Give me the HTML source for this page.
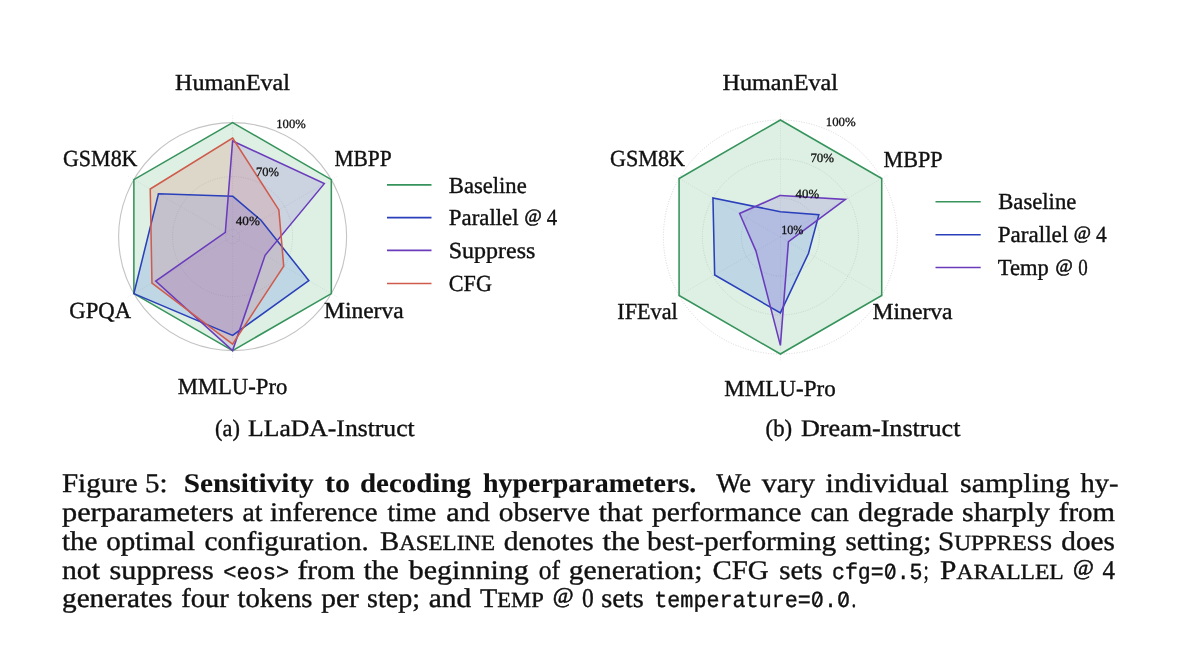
<!DOCTYPE html>
<html><head><meta charset="utf-8"><title>Figure 5</title>
<style>
html,body{margin:0;padding:0;background:#fff;}
body{width:1200px;height:655px;position:relative;overflow:hidden;font-family:"Liberation Serif",serif;}
</style></head><body>
<svg width="1200" height="655" viewBox="0 0 1200 655" style="position:absolute;left:0;top:0;will-change:transform;text-rendering:geometricPrecision">
<rect width="1200" height="655" fill="#ffffff"/>
<line x1="232.60" y1="236.60" x2="232.60" y2="115.60" stroke="#b0b0b0" stroke-width="0.8" stroke-dasharray="1 1.4" opacity="0.32"/>
<line x1="232.60" y1="236.60" x2="337.39" y2="176.10" stroke="#b0b0b0" stroke-width="0.8" stroke-dasharray="1 1.4" opacity="0.32"/>
<line x1="232.60" y1="236.60" x2="337.39" y2="297.10" stroke="#b0b0b0" stroke-width="0.8" stroke-dasharray="1 1.4" opacity="0.32"/>
<line x1="232.60" y1="236.60" x2="232.60" y2="357.60" stroke="#b0b0b0" stroke-width="0.8" stroke-dasharray="1 1.4" opacity="0.32"/>
<line x1="232.60" y1="236.60" x2="127.81" y2="297.10" stroke="#b0b0b0" stroke-width="0.8" stroke-dasharray="1 1.4" opacity="0.32"/>
<line x1="232.60" y1="236.60" x2="127.81" y2="176.10" stroke="#b0b0b0" stroke-width="0.8" stroke-dasharray="1 1.4" opacity="0.32"/>
<circle cx="232.60" cy="236.60" r="7.00" fill="none" stroke="#b0b0b0" stroke-width="0.9" stroke-dasharray="1 1.4" opacity="0.42"/>
<circle cx="232.60" cy="236.60" r="60.00" fill="none" stroke="#b0b0b0" stroke-width="0.9" stroke-dasharray="1 1.4" opacity="0.42"/>
<circle cx="232.60" cy="236.60" r="114.00" fill="none" stroke="#c4c4c4" stroke-width="1.10"/>
<polygon points="232.60,122.60 331.33,179.60 331.33,293.60 232.60,350.60 133.87,293.60 133.87,179.60" fill="#2ea050" fill-opacity="0.16" stroke="none"/>
<polygon points="232.60,196.20 261.01,220.20 308.81,280.60 232.60,335.40 133.87,293.60 158.47,193.80" fill="#2850f0" fill-opacity="0.16" stroke="none"/>
<polygon points="232.60,141.00 324.31,183.65 265.08,255.35 232.60,350.60 155.70,281.00 225.33,232.40" fill="#783cd2" fill-opacity="0.16" stroke="none"/>
<polygon points="232.60,138.00 278.85,209.90 283.70,266.10 232.60,344.10 151.97,283.15 150.24,189.05" fill="#dd554c" fill-opacity="0.16" stroke="none"/>
<polygon points="232.60,122.60 331.33,179.60 331.33,293.60 232.60,350.60 133.87,293.60 133.87,179.60" fill="none" stroke="#36935c" stroke-width="1.55" stroke-linejoin="miter"/>
<polygon points="232.60,196.20 261.01,220.20 308.81,280.60 232.60,335.40 133.87,293.60 158.47,193.80" fill="none" stroke="#2a3fba" stroke-width="1.55" stroke-linejoin="miter"/>
<polygon points="232.60,141.00 324.31,183.65 265.08,255.35 232.60,350.60 155.70,281.00 225.33,232.40" fill="none" stroke="#6a3cbc" stroke-width="1.55" stroke-linejoin="miter"/>
<polygon points="232.60,138.00 278.85,209.90 283.70,266.10 232.60,344.10 151.97,283.15 150.24,189.05" fill="none" stroke="#cf5b4c" stroke-width="1.55" stroke-linejoin="miter"/>
<line x1="780.40" y1="237.00" x2="780.40" y2="113.00" stroke="#b0b0b0" stroke-width="0.8" stroke-dasharray="1 1.4" opacity="0.32"/>
<line x1="780.40" y1="237.00" x2="887.79" y2="175.00" stroke="#b0b0b0" stroke-width="0.8" stroke-dasharray="1 1.4" opacity="0.32"/>
<line x1="780.40" y1="237.00" x2="887.79" y2="299.00" stroke="#b0b0b0" stroke-width="0.8" stroke-dasharray="1 1.4" opacity="0.32"/>
<line x1="780.40" y1="237.00" x2="780.40" y2="361.00" stroke="#b0b0b0" stroke-width="0.8" stroke-dasharray="1 1.4" opacity="0.32"/>
<line x1="780.40" y1="237.00" x2="673.01" y2="299.00" stroke="#b0b0b0" stroke-width="0.8" stroke-dasharray="1 1.4" opacity="0.32"/>
<line x1="780.40" y1="237.00" x2="673.01" y2="175.00" stroke="#b0b0b0" stroke-width="0.8" stroke-dasharray="1 1.4" opacity="0.32"/>
<circle cx="780.40" cy="237.00" r="39.00" fill="none" stroke="#b0b0b0" stroke-width="0.9" stroke-dasharray="1 1.4" opacity="0.42"/>
<circle cx="780.40" cy="237.00" r="78.00" fill="none" stroke="#b0b0b0" stroke-width="0.9" stroke-dasharray="1 1.4" opacity="0.42"/>
<circle cx="780.40" cy="237.00" r="117.00" fill="none" stroke="#d0d0d8" stroke-width="0.90" stroke-dasharray="1 1.6"/>
<polygon points="780.40,120.00 881.72,178.50 881.72,295.50 780.40,354.00 679.08,295.50 679.08,178.50" fill="#2ea050" fill-opacity="0.16" stroke="none"/>
<polygon points="780.40,211.70 818.85,214.80 808.55,253.25 780.40,312.90 714.67,274.95 712.94,198.05" fill="#2850f0" fill-opacity="0.16" stroke="none"/>
<polygon points="780.40,195.40 845.44,199.45 788.45,241.65 780.40,345.40 755.98,251.10 739.61,213.45" fill="#783cd2" fill-opacity="0.16" stroke="none"/>
<polygon points="780.40,120.00 881.72,178.50 881.72,295.50 780.40,354.00 679.08,295.50 679.08,178.50" fill="none" stroke="#36935c" stroke-width="1.55" stroke-linejoin="miter"/>
<polygon points="780.40,211.70 818.85,214.80 808.55,253.25 780.40,312.90 714.67,274.95 712.94,198.05" fill="none" stroke="#2a3fba" stroke-width="1.55" stroke-linejoin="miter"/>
<polygon points="780.40,195.40 845.44,199.45 788.45,241.65 780.40,345.40 755.98,251.10 739.61,213.45" fill="none" stroke="#6a3cbc" stroke-width="1.55" stroke-linejoin="miter"/>
<text x="175.00" y="90.00" font-family="'Liberation Serif', serif" font-size="23.00px" font-weight="normal" fill="#111" textLength="115.00" lengthAdjust="spacingAndGlyphs" xml:space="preserve" stroke="#111" stroke-width="0.38" stroke-linejoin="round">HumanEval</text>
<text x="63.00" y="165.75" font-family="'Liberation Serif', serif" font-size="23.00px" font-weight="normal" fill="#111" textLength="74.50" lengthAdjust="spacingAndGlyphs" xml:space="preserve" stroke="#111" stroke-width="0.38" stroke-linejoin="round">GSM8K</text>
<text x="334.50" y="165.70" font-family="'Liberation Serif', serif" font-size="23.00px" font-weight="normal" fill="#111" textLength="57.20" lengthAdjust="spacingAndGlyphs" xml:space="preserve" stroke="#111" stroke-width="0.38" stroke-linejoin="round">MBPP</text>
<text x="69.30" y="318.30" font-family="'Liberation Serif', serif" font-size="23.00px" font-weight="normal" fill="#111" textLength="61.70" lengthAdjust="spacingAndGlyphs" xml:space="preserve" stroke="#111" stroke-width="0.38" stroke-linejoin="round">GPQA</text>
<text x="324.00" y="318.10" font-family="'Liberation Serif', serif" font-size="23.00px" font-weight="normal" fill="#111" textLength="79.60" lengthAdjust="spacingAndGlyphs" xml:space="preserve" stroke="#111" stroke-width="0.38" stroke-linejoin="round">Minerva</text>
<text x="177.70" y="394.30" font-family="'Liberation Serif', serif" font-size="23.00px" font-weight="normal" fill="#111" textLength="109.60" lengthAdjust="spacingAndGlyphs" xml:space="preserve" stroke="#111" stroke-width="0.38" stroke-linejoin="round">MMLU-Pro</text>
<text x="276.30" y="127.60" font-family="'Liberation Serif', serif" font-size="12.60px" font-weight="normal" fill="#111" textLength="29.40" lengthAdjust="spacingAndGlyphs" xml:space="preserve" stroke="#111" stroke-width="0.30" stroke-linejoin="round">100%</text>
<text x="256.00" y="176.20" font-family="'Liberation Serif', serif" font-size="12.60px" font-weight="normal" fill="#111" textLength="23.00" lengthAdjust="spacingAndGlyphs" xml:space="preserve" stroke="#111" stroke-width="0.30" stroke-linejoin="round">70%</text>
<text x="235.80" y="225.40" font-family="'Liberation Serif', serif" font-size="12.60px" font-weight="normal" fill="#111" textLength="24.10" lengthAdjust="spacingAndGlyphs" xml:space="preserve" stroke="#111" stroke-width="0.30" stroke-linejoin="round">40%</text>
<text x="722.50" y="90.00" font-family="'Liberation Serif', serif" font-size="23.00px" font-weight="normal" fill="#111" textLength="115.50" lengthAdjust="spacingAndGlyphs" xml:space="preserve" stroke="#111" stroke-width="0.38" stroke-linejoin="round">HumanEval</text>
<text x="610.00" y="166.25" font-family="'Liberation Serif', serif" font-size="23.00px" font-weight="normal" fill="#111" textLength="75.00" lengthAdjust="spacingAndGlyphs" xml:space="preserve" stroke="#111" stroke-width="0.38" stroke-linejoin="round">GSM8K</text>
<text x="883.50" y="166.70" font-family="'Liberation Serif', serif" font-size="23.00px" font-weight="normal" fill="#111" textLength="59.00" lengthAdjust="spacingAndGlyphs" xml:space="preserve" stroke="#111" stroke-width="0.38" stroke-linejoin="round">MBPP</text>
<text x="617.30" y="319.30" font-family="'Liberation Serif', serif" font-size="23.00px" font-weight="normal" fill="#111" textLength="60.40" lengthAdjust="spacingAndGlyphs" xml:space="preserve" stroke="#111" stroke-width="0.38" stroke-linejoin="round">IFEval</text>
<text x="872.50" y="319.30" font-family="'Liberation Serif', serif" font-size="23.00px" font-weight="normal" fill="#111" textLength="80.10" lengthAdjust="spacingAndGlyphs" xml:space="preserve" stroke="#111" stroke-width="0.38" stroke-linejoin="round">Minerva</text>
<text x="724.30" y="396.00" font-family="'Liberation Serif', serif" font-size="23.00px" font-weight="normal" fill="#111" textLength="111.40" lengthAdjust="spacingAndGlyphs" xml:space="preserve" stroke="#111" stroke-width="0.38" stroke-linejoin="round">MMLU-Pro</text>
<text x="825.80" y="125.60" font-family="'Liberation Serif', serif" font-size="12.60px" font-weight="normal" fill="#111" textLength="29.90" lengthAdjust="spacingAndGlyphs" xml:space="preserve" stroke="#111" stroke-width="0.30" stroke-linejoin="round">100%</text>
<text x="810.40" y="161.80" font-family="'Liberation Serif', serif" font-size="12.60px" font-weight="normal" fill="#111" textLength="23.70" lengthAdjust="spacingAndGlyphs" xml:space="preserve" stroke="#111" stroke-width="0.30" stroke-linejoin="round">70%</text>
<text x="795.60" y="198.00" font-family="'Liberation Serif', serif" font-size="12.60px" font-weight="normal" fill="#111" textLength="23.50" lengthAdjust="spacingAndGlyphs" xml:space="preserve" stroke="#111" stroke-width="0.30" stroke-linejoin="round">40%</text>
<text x="781.20" y="234.10" font-family="'Liberation Serif', serif" font-size="12.60px" font-weight="normal" fill="#111" textLength="22.20" lengthAdjust="spacingAndGlyphs" xml:space="preserve" stroke="#111" stroke-width="0.30" stroke-linejoin="round">10%</text>
<line x1="387.00" y1="184.90" x2="431.50" y2="184.90" stroke="#36935c" stroke-width="1.6"/>
<text x="448.80" y="192.60" font-family="'Liberation Serif', serif" font-size="23.00px" font-weight="normal" fill="#111" textLength="77.90" lengthAdjust="spacingAndGlyphs" xml:space="preserve" stroke="#111" stroke-width="0.38" stroke-linejoin="round">Baseline</text>
<line x1="387.00" y1="217.60" x2="431.50" y2="217.60" stroke="#2a3fba" stroke-width="1.6"/>
<text x="448.80" y="225.35" font-family="'Liberation Serif', serif" font-size="23.00px" font-weight="normal" fill="#111" textLength="69.80" lengthAdjust="spacingAndGlyphs" xml:space="preserve" stroke="#111" stroke-width="0.38" stroke-linejoin="round">Parallel</text>
<text x="524.56" y="222.21" font-family="'Liberation Serif', serif" font-size="18.71px" fill="#111" stroke="#111" stroke-width="0.6">@</text>
<text x="546.70" y="225.35" font-family="'Liberation Serif', serif" font-size="23.00px" font-weight="normal" fill="#111" textLength="10.40" lengthAdjust="spacingAndGlyphs" xml:space="preserve" stroke="#111" stroke-width="0.38" stroke-linejoin="round">4</text>
<line x1="387.00" y1="250.40" x2="431.50" y2="250.40" stroke="#6a3cbc" stroke-width="1.6"/>
<text x="448.80" y="258.10" font-family="'Liberation Serif', serif" font-size="23.00px" font-weight="normal" fill="#111" textLength="86.50" lengthAdjust="spacingAndGlyphs" xml:space="preserve" stroke="#111" stroke-width="0.38" stroke-linejoin="round">Suppress</text>
<line x1="387.00" y1="283.50" x2="431.50" y2="283.50" stroke="#cf5b4c" stroke-width="1.6"/>
<text x="448.80" y="291.00" font-family="'Liberation Serif', serif" font-size="23.00px" font-weight="normal" fill="#111" textLength="43.10" lengthAdjust="spacingAndGlyphs" xml:space="preserve" stroke="#111" stroke-width="0.38" stroke-linejoin="round">CFG</text>
<line x1="935.50" y1="201.80" x2="980.70" y2="201.80" stroke="#36935c" stroke-width="1.6"/>
<text x="998.20" y="209.40" font-family="'Liberation Serif', serif" font-size="23.00px" font-weight="normal" fill="#111" textLength="78.10" lengthAdjust="spacingAndGlyphs" xml:space="preserve" stroke="#111" stroke-width="0.38" stroke-linejoin="round">Baseline</text>
<line x1="935.50" y1="234.80" x2="980.70" y2="234.80" stroke="#2a3fba" stroke-width="1.6"/>
<text x="997.80" y="242.30" font-family="'Liberation Serif', serif" font-size="23.00px" font-weight="normal" fill="#111" textLength="70.40" lengthAdjust="spacingAndGlyphs" xml:space="preserve" stroke="#111" stroke-width="0.38" stroke-linejoin="round">Parallel</text>
<text x="1073.76" y="239.16" font-family="'Liberation Serif', serif" font-size="18.71px" fill="#111" stroke="#111" stroke-width="0.6">@</text>
<text x="1096.10" y="242.30" font-family="'Liberation Serif', serif" font-size="23.00px" font-weight="normal" fill="#111" textLength="10.70" lengthAdjust="spacingAndGlyphs" xml:space="preserve" stroke="#111" stroke-width="0.38" stroke-linejoin="round">4</text>
<line x1="935.50" y1="267.50" x2="980.70" y2="267.50" stroke="#6a3cbc" stroke-width="1.6"/>
<text x="997.80" y="275.10" font-family="'Liberation Serif', serif" font-size="23.00px" font-weight="normal" fill="#111" textLength="51.00" lengthAdjust="spacingAndGlyphs" xml:space="preserve" stroke="#111" stroke-width="0.38" stroke-linejoin="round">Temp</text>
<text x="1055.46" y="271.96" font-family="'Liberation Serif', serif" font-size="18.71px" fill="#111" stroke="#111" stroke-width="0.6">@</text>
<text x="1078.20" y="275.10" font-family="'Liberation Serif', serif" font-size="23.00px" font-weight="normal" fill="#111" textLength="9.50" lengthAdjust="spacingAndGlyphs" xml:space="preserve" stroke="#111" stroke-width="0.38" stroke-linejoin="round">0</text>
<text x="215.10" y="435.70" font-family="'Liberation Serif', serif" font-size="23.80px" font-weight="normal" fill="#111" textLength="24.80" lengthAdjust="spacingAndGlyphs" xml:space="preserve" stroke="#111" stroke-width="0.38" stroke-linejoin="round">(a)</text>
<text x="248.10" y="435.70" font-family="'Liberation Serif', serif" font-size="23.80px" font-weight="normal" fill="#111" textLength="166.60" lengthAdjust="spacingAndGlyphs" xml:space="preserve" stroke="#111" stroke-width="0.38" stroke-linejoin="round">LLaDA-Instruct</text>
<text x="765.60" y="435.70" font-family="'Liberation Serif', serif" font-size="23.80px" font-weight="normal" fill="#111" textLength="26.60" lengthAdjust="spacingAndGlyphs" xml:space="preserve" stroke="#111" stroke-width="0.38" stroke-linejoin="round">(b)</text>
<text x="800.90" y="435.70" font-family="'Liberation Serif', serif" font-size="23.80px" font-weight="normal" fill="#111" textLength="159.60" lengthAdjust="spacingAndGlyphs" xml:space="preserve" stroke="#111" stroke-width="0.38" stroke-linejoin="round">Dream-Instruct</text>
<text x="62.00" y="491.60" font-family="'Liberation Serif', serif" font-size="27.00px" font-weight="normal" fill="#111" textLength="105.50" lengthAdjust="spacingAndGlyphs" xml:space="preserve" stroke="#111" stroke-width="0.38" stroke-linejoin="round">Figure 5:</text>
<text x="183.75" y="491.60" font-family="'Liberation Serif', serif" font-size="27.00px" font-weight="bold" fill="#111" textLength="130.00" lengthAdjust="spacingAndGlyphs" xml:space="preserve" stroke="#111" stroke-width="0.12" stroke-linejoin="round">Sensitivity</text>
<text x="325.00" y="491.60" font-family="'Liberation Serif', serif" font-size="27.00px" font-weight="bold" fill="#111" textLength="25.00" lengthAdjust="spacingAndGlyphs" xml:space="preserve" stroke="#111" stroke-width="0.12" stroke-linejoin="round">to</text>
<text x="360.00" y="491.60" font-family="'Liberation Serif', serif" font-size="27.00px" font-weight="bold" fill="#111" textLength="111.00" lengthAdjust="spacingAndGlyphs" xml:space="preserve" stroke="#111" stroke-width="0.12" stroke-linejoin="round">decoding</text>
<text x="483.00" y="491.60" font-family="'Liberation Serif', serif" font-size="27.00px" font-weight="bold" fill="#111" textLength="213.25" lengthAdjust="spacingAndGlyphs" xml:space="preserve" stroke="#111" stroke-width="0.12" stroke-linejoin="round">hyperparameters.</text>
<text x="716.25" y="491.60" font-family="'Liberation Serif', serif" font-size="27.00px" font-weight="normal" fill="#111" textLength="34.75" lengthAdjust="spacingAndGlyphs" xml:space="preserve" stroke="#111" stroke-width="0.38" stroke-linejoin="round">We</text>
<text x="761.75" y="491.60" font-family="'Liberation Serif', serif" font-size="27.00px" font-weight="normal" fill="#111" textLength="53.25" lengthAdjust="spacingAndGlyphs" xml:space="preserve" stroke="#111" stroke-width="0.38" stroke-linejoin="round">vary</text>
<text x="825.50" y="491.60" font-family="'Liberation Serif', serif" font-size="27.00px" font-weight="normal" fill="#111" textLength="123.25" lengthAdjust="spacingAndGlyphs" xml:space="preserve" stroke="#111" stroke-width="0.38" stroke-linejoin="round">individual</text>
<text x="960.00" y="491.60" font-family="'Liberation Serif', serif" font-size="27.00px" font-weight="normal" fill="#111" textLength="110.00" lengthAdjust="spacingAndGlyphs" xml:space="preserve" stroke="#111" stroke-width="0.38" stroke-linejoin="round">sampling</text>
<text x="1080.50" y="491.60" font-family="'Liberation Serif', serif" font-size="27.00px" font-weight="normal" fill="#111" textLength="38.00" lengthAdjust="spacingAndGlyphs" xml:space="preserve" stroke="#111" stroke-width="0.38" stroke-linejoin="round">hy-</text>
<text x="62.00" y="520.70" font-family="'Liberation Serif', serif" font-size="27.00px" font-weight="normal" fill="#111" textLength="171.75" lengthAdjust="spacingAndGlyphs" xml:space="preserve" stroke="#111" stroke-width="0.38" stroke-linejoin="round">perparameters</text>
<text x="242.50" y="520.70" font-family="'Liberation Serif', serif" font-size="27.00px" font-weight="normal" fill="#111" textLength="20.00" lengthAdjust="spacingAndGlyphs" xml:space="preserve" stroke="#111" stroke-width="0.38" stroke-linejoin="round">at</text>
<text x="270.00" y="520.70" font-family="'Liberation Serif', serif" font-size="27.00px" font-weight="normal" fill="#111" textLength="107.50" lengthAdjust="spacingAndGlyphs" xml:space="preserve" stroke="#111" stroke-width="0.38" stroke-linejoin="round">inference</text>
<text x="387.50" y="520.70" font-family="'Liberation Serif', serif" font-size="27.00px" font-weight="normal" fill="#111" textLength="48.75" lengthAdjust="spacingAndGlyphs" xml:space="preserve" stroke="#111" stroke-width="0.38" stroke-linejoin="round">time</text>
<text x="446.25" y="520.70" font-family="'Liberation Serif', serif" font-size="27.00px" font-weight="normal" fill="#111" textLength="43.75" lengthAdjust="spacingAndGlyphs" xml:space="preserve" stroke="#111" stroke-width="0.38" stroke-linejoin="round">and</text>
<text x="498.75" y="520.70" font-family="'Liberation Serif', serif" font-size="27.00px" font-weight="normal" fill="#111" textLength="91.25" lengthAdjust="spacingAndGlyphs" xml:space="preserve" stroke="#111" stroke-width="0.38" stroke-linejoin="round">observe</text>
<text x="598.75" y="520.70" font-family="'Liberation Serif', serif" font-size="27.00px" font-weight="normal" fill="#111" textLength="43.75" lengthAdjust="spacingAndGlyphs" xml:space="preserve" stroke="#111" stroke-width="0.38" stroke-linejoin="round">that</text>
<text x="652.00" y="520.70" font-family="'Liberation Serif', serif" font-size="27.00px" font-weight="normal" fill="#111" textLength="149.25" lengthAdjust="spacingAndGlyphs" xml:space="preserve" stroke="#111" stroke-width="0.38" stroke-linejoin="round">performance</text>
<text x="810.50" y="520.70" font-family="'Liberation Serif', serif" font-size="27.00px" font-weight="normal" fill="#111" textLength="38.25" lengthAdjust="spacingAndGlyphs" xml:space="preserve" stroke="#111" stroke-width="0.38" stroke-linejoin="round">can</text>
<text x="858.00" y="520.70" font-family="'Liberation Serif', serif" font-size="27.00px" font-weight="normal" fill="#111" textLength="95.75" lengthAdjust="spacingAndGlyphs" xml:space="preserve" stroke="#111" stroke-width="0.38" stroke-linejoin="round">degrade</text>
<text x="962.00" y="520.70" font-family="'Liberation Serif', serif" font-size="27.00px" font-weight="normal" fill="#111" textLength="88.00" lengthAdjust="spacingAndGlyphs" xml:space="preserve" stroke="#111" stroke-width="0.38" stroke-linejoin="round">sharply</text>
<text x="1058.75" y="520.70" font-family="'Liberation Serif', serif" font-size="27.00px" font-weight="normal" fill="#111" textLength="56.25" lengthAdjust="spacingAndGlyphs" xml:space="preserve" stroke="#111" stroke-width="0.38" stroke-linejoin="round">from</text>
<text x="62.00" y="549.70" font-family="'Liberation Serif', serif" font-size="27.00px" font-weight="normal" fill="#111" textLength="35.50" lengthAdjust="spacingAndGlyphs" xml:space="preserve" stroke="#111" stroke-width="0.38" stroke-linejoin="round">the</text>
<text x="106.25" y="549.70" font-family="'Liberation Serif', serif" font-size="27.00px" font-weight="normal" fill="#111" textLength="88.75" lengthAdjust="spacingAndGlyphs" xml:space="preserve" stroke="#111" stroke-width="0.38" stroke-linejoin="round">optimal</text>
<text x="204.50" y="549.70" font-family="'Liberation Serif', serif" font-size="27.00px" font-weight="normal" fill="#111" textLength="164.25" lengthAdjust="spacingAndGlyphs" xml:space="preserve" stroke="#111" stroke-width="0.38" stroke-linejoin="round">configuration.</text>
<text x="380.00" y="549.70" font-family="'Liberation Serif', serif" font-size="27.00px" fill="#111" stroke="#111" stroke-width="0.38" textLength="115.00" lengthAdjust="spacingAndGlyphs" xml:space="preserve">B<tspan font-size="21.60px">ASELINE</tspan></text>
<text x="503.75" y="549.70" font-family="'Liberation Serif', serif" font-size="27.00px" font-weight="normal" fill="#111" textLength="90.00" lengthAdjust="spacingAndGlyphs" xml:space="preserve" stroke="#111" stroke-width="0.38" stroke-linejoin="round">denotes</text>
<text x="602.50" y="549.70" font-family="'Liberation Serif', serif" font-size="27.00px" font-weight="normal" fill="#111" textLength="37.50" lengthAdjust="spacingAndGlyphs" xml:space="preserve" stroke="#111" stroke-width="0.38" stroke-linejoin="round">the</text>
<text x="647.00" y="549.70" font-family="'Liberation Serif', serif" font-size="27.00px" font-weight="normal" fill="#111" textLength="189.25" lengthAdjust="spacingAndGlyphs" xml:space="preserve" stroke="#111" stroke-width="0.38" stroke-linejoin="round">best-performing</text>
<text x="845.50" y="549.70" font-family="'Liberation Serif', serif" font-size="27.00px" font-weight="normal" fill="#111" textLength="85.75" lengthAdjust="spacingAndGlyphs" xml:space="preserve" stroke="#111" stroke-width="0.38" stroke-linejoin="round">setting;</text>
<text x="938.00" y="549.70" font-family="'Liberation Serif', serif" font-size="27.00px" fill="#111" stroke="#111" stroke-width="0.38" textLength="114.50" lengthAdjust="spacingAndGlyphs" xml:space="preserve">S<tspan font-size="21.60px">UPPRESS</tspan></text>
<text x="1061.25" y="549.70" font-family="'Liberation Serif', serif" font-size="27.00px" font-weight="normal" fill="#111" textLength="53.75" lengthAdjust="spacingAndGlyphs" xml:space="preserve" stroke="#111" stroke-width="0.38" stroke-linejoin="round">does</text>
<text x="62.00" y="578.50" font-family="'Liberation Serif', serif" font-size="27.00px" font-weight="normal" fill="#111" textLength="38.00" lengthAdjust="spacingAndGlyphs" xml:space="preserve" stroke="#111" stroke-width="0.38" stroke-linejoin="round">not</text>
<text x="109.50" y="578.50" font-family="'Liberation Serif', serif" font-size="27.00px" font-weight="normal" fill="#111" textLength="104.25" lengthAdjust="spacingAndGlyphs" xml:space="preserve" stroke="#111" stroke-width="0.38" stroke-linejoin="round">suppress</text>
<text x="223.20" y="578.50" font-family="'Liberation Mono', serif" font-size="22.30px" font-weight="normal" fill="#111" textLength="66.00" lengthAdjust="spacingAndGlyphs" xml:space="preserve" stroke="#111" stroke-width="0.38" stroke-linejoin="round">&lt;eos&gt;</text>
<text x="297.50" y="578.50" font-family="'Liberation Serif', serif" font-size="27.00px" font-weight="normal" fill="#111" textLength="57.50" lengthAdjust="spacingAndGlyphs" xml:space="preserve" stroke="#111" stroke-width="0.38" stroke-linejoin="round">from</text>
<text x="363.75" y="578.50" font-family="'Liberation Serif', serif" font-size="27.00px" font-weight="normal" fill="#111" textLength="35.00" lengthAdjust="spacingAndGlyphs" xml:space="preserve" stroke="#111" stroke-width="0.38" stroke-linejoin="round">the</text>
<text x="408.75" y="578.50" font-family="'Liberation Serif', serif" font-size="27.00px" font-weight="normal" fill="#111" textLength="120.00" lengthAdjust="spacingAndGlyphs" xml:space="preserve" stroke="#111" stroke-width="0.38" stroke-linejoin="round">beginning</text>
<text x="538.75" y="578.50" font-family="'Liberation Serif', serif" font-size="27.00px" font-weight="normal" fill="#111" textLength="21.25" lengthAdjust="spacingAndGlyphs" xml:space="preserve" stroke="#111" stroke-width="0.38" stroke-linejoin="round">of</text>
<text x="568.75" y="578.50" font-family="'Liberation Serif', serif" font-size="27.00px" font-weight="normal" fill="#111" textLength="133.75" lengthAdjust="spacingAndGlyphs" xml:space="preserve" stroke="#111" stroke-width="0.38" stroke-linejoin="round">generation;</text>
<text x="712.50" y="578.50" font-family="'Liberation Serif', serif" font-size="27.00px" font-weight="normal" fill="#111" textLength="56.25" lengthAdjust="spacingAndGlyphs" xml:space="preserve" stroke="#111" stroke-width="0.38" stroke-linejoin="round">CFG</text>
<text x="779.25" y="578.50" font-family="'Liberation Serif', serif" font-size="27.00px" font-weight="normal" fill="#111" textLength="43.25" lengthAdjust="spacingAndGlyphs" xml:space="preserve" stroke="#111" stroke-width="0.38" stroke-linejoin="round">sets</text>
<text x="832.00" y="578.50" font-family="'Liberation Mono', serif" font-size="23.00px" font-weight="normal" fill="#111" textLength="90.50" lengthAdjust="spacingAndGlyphs" xml:space="preserve" stroke="#111" stroke-width="0.38" stroke-linejoin="round">cfg=0.5</text>
<text x="923.50" y="578.50" font-family="'Liberation Serif', serif" font-size="27.00px" font-weight="normal" fill="#111" textLength="5.25" lengthAdjust="spacingAndGlyphs" xml:space="preserve" stroke="#111" stroke-width="0.38" stroke-linejoin="round">;</text>
<text x="940.00" y="578.50" font-family="'Liberation Serif', serif" font-size="27.00px" fill="#111" stroke="#111" stroke-width="0.38" textLength="123.75" lengthAdjust="spacingAndGlyphs" xml:space="preserve">P<tspan font-size="21.60px">ARALLEL</tspan></text>
<text x="1072.97" y="574.58" font-family="'Liberation Serif', serif" font-size="22.59px" fill="#111" stroke="#111" stroke-width="0.6">@</text>
<text x="1102.50" y="578.50" font-family="'Liberation Serif', serif" font-size="27.00px" font-weight="normal" fill="#111" textLength="12.50" lengthAdjust="spacingAndGlyphs" xml:space="preserve" stroke="#111" stroke-width="0.38" stroke-linejoin="round">4</text>
<text x="62.00" y="607.40" font-family="'Liberation Serif', serif" font-size="27.00px" font-weight="normal" fill="#111" textLength="110.50" lengthAdjust="spacingAndGlyphs" xml:space="preserve" stroke="#111" stroke-width="0.38" stroke-linejoin="round">generates</text>
<text x="181.25" y="607.40" font-family="'Liberation Serif', serif" font-size="27.00px" font-weight="normal" fill="#111" textLength="47.50" lengthAdjust="spacingAndGlyphs" xml:space="preserve" stroke="#111" stroke-width="0.38" stroke-linejoin="round">four</text>
<text x="237.50" y="607.40" font-family="'Liberation Serif', serif" font-size="27.00px" font-weight="normal" fill="#111" textLength="75.00" lengthAdjust="spacingAndGlyphs" xml:space="preserve" stroke="#111" stroke-width="0.38" stroke-linejoin="round">tokens</text>
<text x="321.25" y="607.40" font-family="'Liberation Serif', serif" font-size="27.00px" font-weight="normal" fill="#111" textLength="37.50" lengthAdjust="spacingAndGlyphs" xml:space="preserve" stroke="#111" stroke-width="0.38" stroke-linejoin="round">per</text>
<text x="367.00" y="607.40" font-family="'Liberation Serif', serif" font-size="27.00px" font-weight="normal" fill="#111" textLength="53.00" lengthAdjust="spacingAndGlyphs" xml:space="preserve" stroke="#111" stroke-width="0.38" stroke-linejoin="round">step;</text>
<text x="428.75" y="607.40" font-family="'Liberation Serif', serif" font-size="27.00px" font-weight="normal" fill="#111" textLength="42.50" lengthAdjust="spacingAndGlyphs" xml:space="preserve" stroke="#111" stroke-width="0.38" stroke-linejoin="round">and</text>
<text x="480.00" y="607.40" font-family="'Liberation Serif', serif" font-size="27.00px" fill="#111" stroke="#111" stroke-width="0.38" textLength="63.75" lengthAdjust="spacingAndGlyphs" xml:space="preserve">T<tspan font-size="21.60px">EMP</tspan></text>
<text x="552.77" y="603.48" font-family="'Liberation Serif', serif" font-size="22.59px" fill="#111" stroke="#111" stroke-width="0.6">@</text>
<text x="582.00" y="607.40" font-family="'Liberation Serif', serif" font-size="27.00px" font-weight="normal" fill="#111" textLength="11.75" lengthAdjust="spacingAndGlyphs" xml:space="preserve" stroke="#111" stroke-width="0.38" stroke-linejoin="round">0</text>
<text x="601.25" y="607.40" font-family="'Liberation Serif', serif" font-size="27.00px" font-weight="normal" fill="#111" textLength="42.50" lengthAdjust="spacingAndGlyphs" xml:space="preserve" stroke="#111" stroke-width="0.38" stroke-linejoin="round">sets</text>
<text x="654.25" y="607.40" font-family="'Liberation Mono', serif" font-size="23.00px" font-weight="normal" fill="#111" textLength="195.75" lengthAdjust="spacingAndGlyphs" xml:space="preserve" stroke="#111" stroke-width="0.38" stroke-linejoin="round">temperature=0.0</text>
<text x="851.50" y="607.40" font-family="'Liberation Serif', serif" font-size="27.00px" font-weight="normal" fill="#111" textLength="4.75" lengthAdjust="spacingAndGlyphs" xml:space="preserve" stroke="#111" stroke-width="0.38" stroke-linejoin="round">.</text>
<rect x="888.40" y="569.10" width="4.4" height="4.4" fill="#fff"/>
<line x1="888.00" y1="576.50" x2="893.20" y2="566.10" stroke="#111" stroke-width="1.5" stroke-linecap="butt"/>
<rect x="815.40" y="597.10" width="4.4" height="4.4" fill="#fff"/>
<line x1="815.00" y1="604.50" x2="820.20" y2="594.10" stroke="#111" stroke-width="1.5" stroke-linecap="butt"/>
<rect x="841.40" y="597.10" width="4.4" height="4.4" fill="#fff"/>
<line x1="841.00" y1="604.50" x2="846.20" y2="594.10" stroke="#111" stroke-width="1.5" stroke-linecap="butt"/>
</svg>
</body></html>
